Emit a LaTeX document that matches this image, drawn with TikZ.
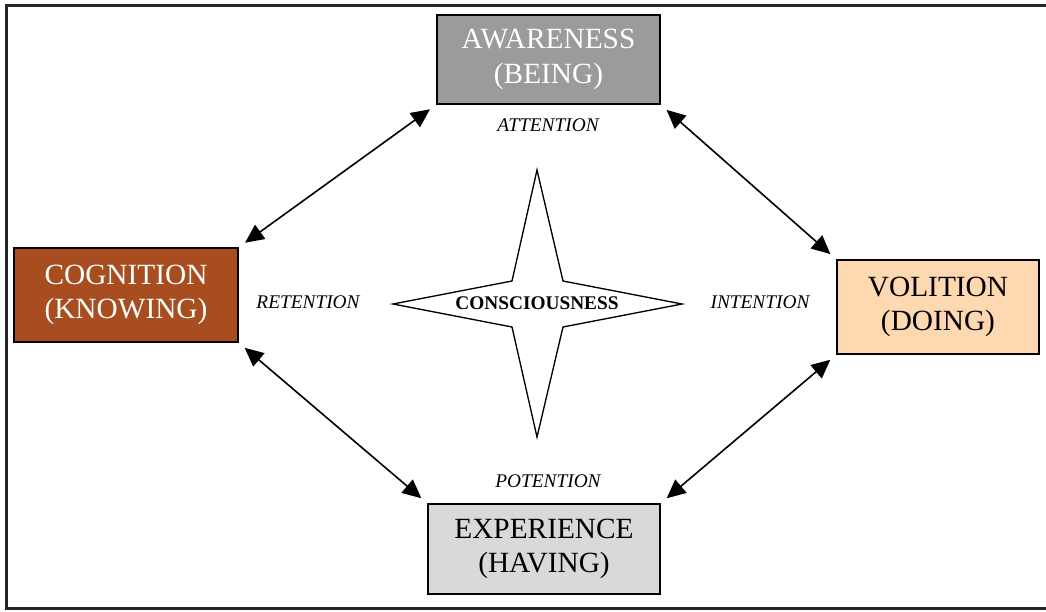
\documentclass[tikz,border=0pt]{standalone}
\usepackage{fontspec}
\setmainfont{Liberation Serif}
\usetikzlibrary{arrows.meta}
\definecolor{beinggray}{HTML}{9B9B9B}
\definecolor{knowingrust}{HTML}{A84D1F}
\definecolor{doingpeach}{HTML}{FDD8B0}
\definecolor{havinggray}{HTML}{D9D9D9}

\begin{document}
\begin{tikzpicture}[x=0.75pt,y=-0.75pt,
  facet/.style={draw, line width=0.9pt, inner sep=0pt, align=center,
    font=\fontsize{22}{26}\selectfont},
  tention/.style={font=\fontsize{14.5}{17}\selectfont\itshape},
  link/.style={{Triangle[length=14pt,width=13pt]}-{Triangle[length=14pt,width=13pt]},
    line width=1.2pt, shorten >=6pt, shorten <=6pt}]
\useasboundingbox (0,0) rectangle (1046,611);
\draw[line width=2.25pt, black!85] (6,5) rectangle (1054,608);

% the four facets
\node[facet, fill=beinggray, text=white, minimum width=167.25pt, minimum height=66.75pt]
  (being) at (548.5,59.5) {AWARENESS\\(BEING)};
\node[facet, fill=knowingrust, text=white, minimum width=168pt, minimum height=70.5pt]
  (knowing) at (126,295) {COGNITION\\(KNOWING)};
\node[facet, fill=doingpeach, minimum width=151.5pt, minimum height=70.5pt]
  (doing) at (938,307) {VOLITION\\(DOING)};
\node[facet, fill=havinggray, minimum width=174pt, minimum height=67.5pt]
  (having) at (544,549) {EXPERIENCE\\(HAVING)};

% the star
\draw[line width=1pt, fill=white] (537,170) -- (563,281) -- (682,304) -- (563,327)
  -- (537,437) -- (512,327) -- (393,304) -- (512,281) -- cycle;
\node (core) at (537,303) {\fontsize{14.5}{17}\selectfont\bfseries CONSCIOUSNESS};

% labels
\node[tention] (attention) at (548,125) {ATTENTION};
\node[tention] (retention) at (308,302) {RETENTION};
\node[tention] (intention) at (760,302) {INTENTION};
\node[tention] (potention) at (548,481) {POTENTION};

% arrows
\draw[link] (knowing.north east) -- (being.south west);
\draw[link] (being.south east) -- (doing.north west);
\draw[link] (knowing.south east) -- (having.north west);
\draw[link] (doing.south west) -- (having.north east);
\end{tikzpicture}
\end{document}
